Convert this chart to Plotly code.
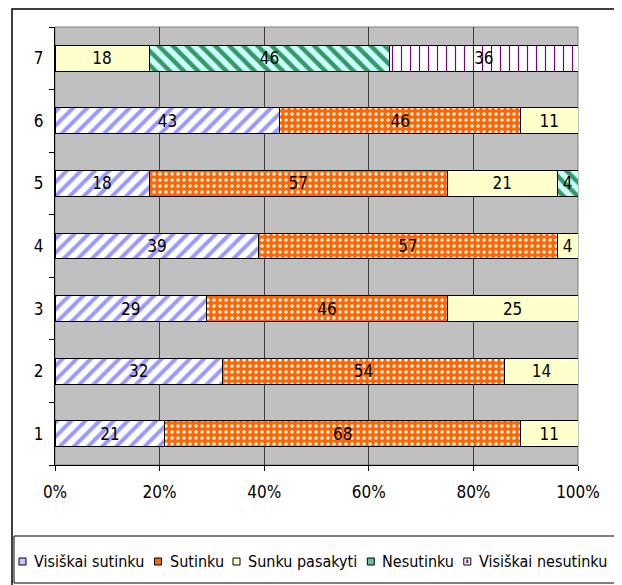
import plotly.graph_objects as go

categories = ["1", "2", "3", "4", "5", "6", "7"]
series_names = ["Visiškai sutinku", "Sutinku", "Sunku pasakyti", "Nesutinku", "Visiškai nesutinku"]
visiskai_sutinku = [21, 32, 29, 39, 18, 43, None]
sutinku = [68, 54, 46, 57, 57, 46, None]
sunku_pasakyti = [11, 14, 25, 4, 21, 11, 18]
nesutinku = [None, None, None, None, 4, None, 46]
visiskai_nesutinku = [None, None, None, None, None, None, 36]
x_tick_vals = [0, 20, 40, 60, 80, 100]
x_tick_text = ["0%", "20%", "40%", "60%", "80%", "100%"]

series_values = [visiskai_sutinku, sutinku, sunku_pasakyti, nesutinku, visiskai_nesutinku]
styles = [
    dict(color="white", pattern=dict(shape="/", fgcolor="#9999FF", bgcolor="white", size=10, solidity=0.4, fillmode="replace")),
    dict(color="#FF6600", pattern=dict(shape=".", fgcolor="white", bgcolor="#FF6600", size=6, solidity=0.25, fillmode="replace")),
    dict(color="#FFFFCC"),
    dict(color="#CCFFFF", pattern=dict(shape="\\", fgcolor="#339966", bgcolor="#CCFFFF", size=10, solidity=0.45, fillmode="replace")),
    dict(color="white", pattern=dict(shape="|", fgcolor="#800080", bgcolor="white", size=9, solidity=0.13, fillmode="replace")),
]
legend_swatch = ["#C4C4FF", "#FF6600", "#FFFFCC", "#66C2A8", "white"]

FONT = "DejaVu Sans Condensed, Liberation Sans, Arial, sans-serif"

# page has an 8px body margin; figure drawn 8px smaller, all screen coords shifted by 8
OFF = 8
W, H = 622 - OFF, 585 - OFF
L, R, T, B = 47, 44, 19, 120
pw, ph = W - L - R, H - T - B

def px(x):  # screen x -> paper
    return (x - OFF - L) / pw

def py(y):  # screen y -> paper
    return (H - B - (y - OFF)) / ph

fig = go.Figure()
for name, vals, st in zip(series_names, series_values, styles):
    fig.add_trace(go.Bar(
        y=categories, x=vals, name=name, orientation="h",
        marker=dict(**st, line=dict(color="black", width=1)),
        text=["" if v is None else str(v) for v in vals],
        textposition="inside", insidetextanchor="middle", textangle=0,
        textfont=dict(family=FONT, size=17, color="black"),
        constraintext="none", showlegend=False,
    ))

shapes = [
    dict(type="rect", xref="paper", yref="paper", x0=0, x1=1, y0=0, y1=1,
         line=dict(color="#808080", width=1), layer="below"),
    dict(type="rect", xref="paper", yref="paper", x0=px(12), x1=px(619), y0=py(640), y1=py(9),
         line=dict(color="black", width=1.5), fillcolor="rgba(0,0,0,0)"),
    dict(type="rect", xref="paper", yref="paper", x0=px(14), x1=px(617), y0=py(583), y1=py(536),
         line=dict(color="black", width=1), fillcolor="rgba(0,0,0,0)"),
]
annotations = []
# approximate text widths (px) of the legend labels at 16px DejaVu Sans Condensed
est_widths = [111.5, 54.5, 110.3, 72.5, 131.0]
cur = 19
for name, sw, tw in zip(series_names, legend_swatch, est_widths):
    shapes.append(dict(type="rect", xref="paper", yref="paper", x0=px(cur), x1=px(cur + 7),
                       y0=py(565), y1=py(558), line=dict(color="black", width=1), fillcolor=sw))
    if sw == "white":
        shapes.append(dict(type="line", xref="paper", yref="paper", x0=px(cur + 3.5), x1=px(cur + 3.5),
                           y0=py(563), y1=py(559.5), line=dict(color="#800080", width=2)))
    tx = cur + 13
    annotations.append(dict(xref="paper", yref="paper", x=px(tx), y=py(561.5), text=name,
                            showarrow=False, xanchor="left", yanchor="middle",
                            font=dict(family=FONT, size=16, color="black")))
    cur = tx + tw + 11

fig.update_layout(
    width=W, height=H,
    margin=dict(l=L, r=R, t=T, b=B, autoexpand=False),
    barmode="stack", bargap=0.585,
    paper_bgcolor="white", plot_bgcolor="#C0C0C0",
    font=dict(family=FONT, color="black"),
    showlegend=False,
    xaxis=dict(range=[0, 100], tickvals=x_tick_vals, ticktext=x_tick_text,
               showgrid=True, gridcolor="#3C3C3C", gridwidth=1,
               showline=True, linecolor="black", linewidth=1,
               ticks="outside", ticklen=5, tickcolor="black", automargin=False,
               tickfont=dict(family=FONT, size=17), ticklabelstandoff=7, zeroline=False),
    yaxis=dict(type="category", categoryorder="array", categoryarray=categories,
               showgrid=False, showline=True, linecolor="black", linewidth=1,
               ticks="outside", ticklen=5, tickcolor="black", tickson="boundaries",
               automargin=False,
               tickfont=dict(family=FONT, size=17), ticklabelstandoff=7),
    shapes=shapes,
    annotations=annotations,
)

fig.write_html("out.html")
